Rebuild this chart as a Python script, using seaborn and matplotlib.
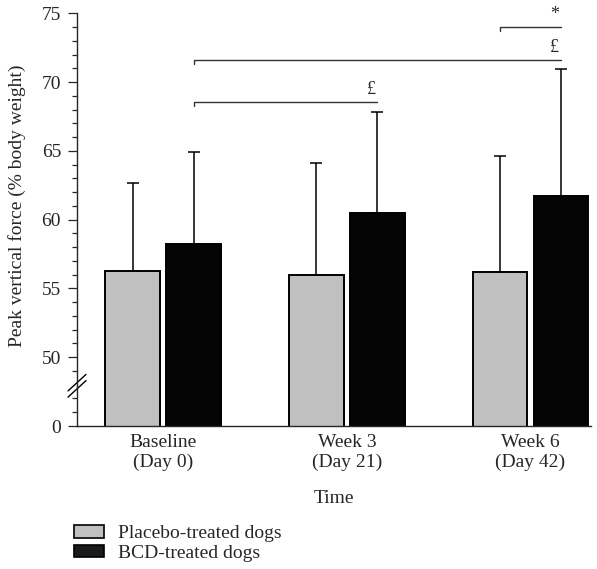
import pandas as pd
import numpy as np
import seaborn as sns
import matplotlib.pyplot as plt
from matplotlib.patches import Patch

# values (% body weight)
times = ['Baseline\n(Day 0)', 'Week 3\n(Day 21)', 'Week 6\n(Day 42)']
groups = ['Placebo-treated dogs', 'BCD-treated dogs']
placebo_mean = [56.3, 56.0, 56.2]
placebo_sd = [6.4, 8.15, 8.45]
bcd_mean = [58.25, 60.45, 61.75]
bcd_sd = [6.65, 7.35, 9.2]

# significance brackets: (from bar, to bar, height, text), bar = (time, group)
brackets = [
    ((2, 0), (2, 1), 74.0, '*'),
    ((0, 1), (2, 1), 71.6, '£'),
    ((0, 1), (1, 1), 68.55, '£'),
]

df = pd.DataFrame({
    'time': times * 2,
    'group': [groups[0]] * 3 + [groups[1]] * 3,
    'value': placebo_mean + bcd_mean,
    'sd': placebo_sd + bcd_sd,
})

sns.set_style('ticks')
plt.rcParams['font.family'] = ['Liberation Serif', 'DejaVu Serif']
fs = 14

fig = plt.figure(figsize=(5.97, 5.69), dpi=100)
ax = fig.add_axes([0.129, 0.2513, 0.861, 0.7253])

gray = '#c0c0c0'
sns.barplot(data=df, x='time', y='value', hue='group', palette=[gray, '#050505'],
            width=0.665, gap=0.1, edgecolor='black', linewidth=1.4,
            legend=False, ax=ax, errorbar=None)

# bar centres, in order of hue then time
centers = {}
for k, p in enumerate(ax.patches[:6]):
    g, t = divmod(k, 3)
    centers[(t, g)] = p.get_x() + p.get_width() / 2

for g, (means, sds) in enumerate([(placebo_mean, placebo_sd), (bcd_mean, bcd_sd)]):
    xs = [centers[(t, g)] for t in range(3)]
    ax.errorbar(xs, means, yerr=[np.zeros(3), sds], fmt='none', ecolor='black',
                elinewidth=1.1, capsize=4.3, capthick=1.1, zorder=1)

for a, b, h, txt in brackets:
    x0, x1 = centers[a], centers[b]
    ax.plot([x0, x0, x1], [h - 0.3, h, h], color='#333333', lw=1.0, clip_on=False)
    ax.text(x1 - 0.035, h + 0.3, txt, ha='center', va='bottom', fontsize=fs - 1,
            clip_on=False)

ax.set_ylim(45, 75)
ax.set_xlim(-0.471, 2.33)
ax.set_yticks([45, 50, 55, 60, 65, 70, 75])
ax.set_yticklabels(['0', '50', '55', '60', '65', '70', '75'], fontsize=fs)
ax.set_yticks([v for v in range(46, 75) if v % 5 and v != 48], minor=True)
ax.tick_params(axis='y', which='major', length=6.5, width=0.9, pad=5)
ax.tick_params(axis='y', which='minor', length=3.6, width=0.9)
ax.tick_params(axis='x', length=0, pad=6, labelsize=fs)
for lab in ax.get_xticklabels():
    lab.set_linespacing(1.15)

# axis break marks
for yc in [47.7, 48.15]:
    ax.plot([-0.0175, 0.0175], [yc - 0.6, yc + 0.6], color='black', lw=1.0,
            transform=ax.get_yaxis_transform(), clip_on=False)

sns.despine(ax=ax)
for s in ['left', 'bottom']:
    ax.spines[s].set_linewidth(1.0)
ax.set_xlabel('Time', fontsize=fs, labelpad=14)
ax.set_ylabel('Peak vertical force (% body weight)', fontsize=fs)
ax.yaxis.set_label_coords(-0.1, 0.533)

handles = [Patch(facecolor=gray, edgecolor='black', lw=1.2),
           Patch(facecolor='#1a1a1a', edgecolor='black', lw=1.2)]
fig.legend(handles, groups, loc='upper left', bbox_to_anchor=(0.124, 0.077),
           frameon=False, fontsize=fs, handlelength=1.55, handleheight=0.6,
           handletextpad=0.7, labelspacing=0.15, borderpad=0, borderaxespad=0)

fig.savefig('out.png', dpi=100)
